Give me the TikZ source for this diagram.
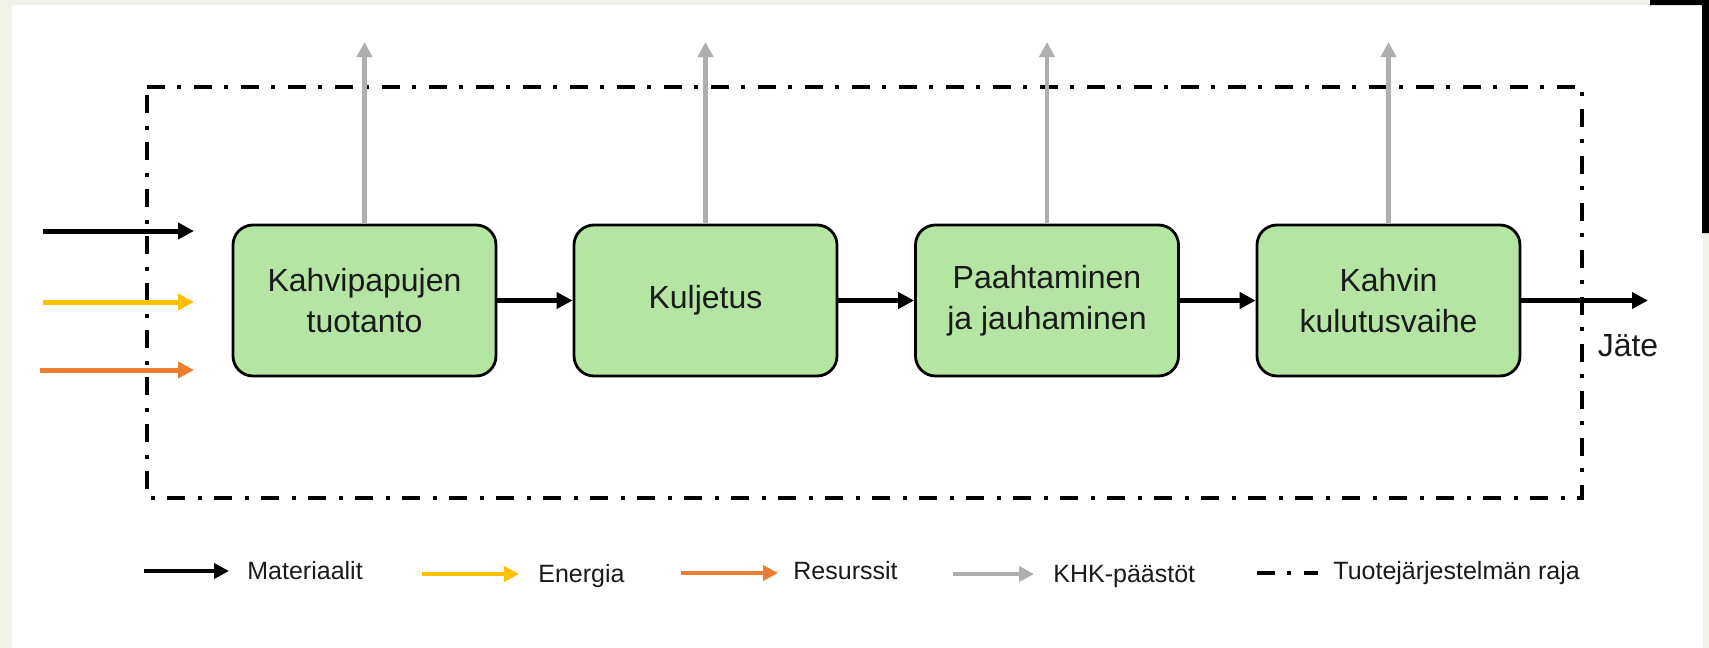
\documentclass[tikz,border=0pt]{standalone}
\usepackage{fontspec}
\setmainfont{Liberation Sans}
\usetikzlibrary{arrows.meta}
\definecolor{cream}{HTML}{F1F1EA}
\definecolor{boxgreen}{HTML}{B4E5A2}
\definecolor{arrgold}{HTML}{FFC000}
\definecolor{arrorange}{HTML}{ED7D31}
\definecolor{arrgray}{HTML}{AFAFAF}
\definecolor{txt}{HTML}{1A1A1A}
\begin{document}
\begin{tikzpicture}[x=0.5pt,y=-0.5pt,
  stage/.style={draw=black, line width=1.4pt, fill=boxgreen, rounded corners=10pt,
    minimum width=131.5pt, minimum height=75.5pt, align=center,
    font=\fontsize{16}{20.5}\selectfont, text=txt, inner sep=0pt},
  flow/.style={line width=2.5pt, -{Triangle[length=8pt,width=8pt]}},
  ghg/.style={draw=arrgray, line width=2.2pt, -{Triangle[length=7.5pt,width=7.5pt]}},
  legflow/.style={line width=2.2pt, -{Triangle[length=7.5pt,width=7.5pt]}},
  boundary/.style={line width=2pt, dash pattern=on 9pt off 6pt on 2pt off 6.5pt},
  legtext/.style={anchor=base west, font=\fontsize{12.5}{15}\selectfont, text=txt, inner sep=0pt}]
\useasboundingbox (0,0) rectangle (1709,648);
% background
\fill[cream] (0,0) rectangle (1709,648);
\fill[white] (12,5) rectangle (1703,648);
\fill[black] (1650,0) -- (1709,0) -- (1709,233) -- (1702,233) -- (1702,5) -- (1650,5) -- cycle;
% system boundary
\draw[boundary] (147,87) -- (1582,87) -- (1582,498) -- (147,498) -- cycle;
% stages
\node[stage] (s1) at (364.5,300.5) {Kahvipapujen\\tuotanto};
\node[stage] (s2) at (705.5,300.5) {Kuljetus};
\node[stage] (s3) at (1047,300.5) {Paahtaminen\\ja jauhaminen};
\node[stage] (s4) at (1388.5,300.5) {Kahvin\\kulutusvaihe};
% flows between stages
\draw[flow] (s1) -- (s2);
\draw[flow] (s2) -- (s3);
\draw[flow] (s3) -- (s4);
% emissions
\coordinate (g1) at (364.5,42);
\coordinate (g2) at (705.5,42);
\coordinate (g3) at (1047,42);
\coordinate (g4) at (1388.5,42);
\draw[ghg] (s1.north) -- (g1);
\draw[ghg] (s2.north) -- (g2);
\draw[ghg] (s3.north) -- (g3);
\draw[ghg] (s4.north) -- (g4);
% inputs
\coordinate (ma) at (43,231);  \coordinate (mb) at (194,231);
\coordinate (ea) at (43,302);  \coordinate (eb) at (194,302);
\coordinate (ra) at (40,370);  \coordinate (rb) at (194,370);
\draw[flow] (ma) -- (mb);
\draw[flow, draw=arrgold, fill=arrgold] (ea) -- (eb);
\draw[flow, draw=arrorange, fill=arrorange] (ra) -- (rb);
% output
\coordinate (out) at (1648,300.5);
\draw[flow] (s4.east) -- (out);
\node[font=\fontsize{16}{20}\selectfont, text=txt, inner sep=0pt] (jate) at (1628,346) {Jäte};
% legend
\coordinate (l1a) at (144,571); \coordinate (l1b) at (229,571);
\coordinate (l2a) at (422,574); \coordinate (l2b) at (519,574);
\coordinate (l3a) at (681,573); \coordinate (l3b) at (778,573);
\coordinate (l4a) at (953,574); \coordinate (l4b) at (1034,574);
\coordinate (l5a) at (1257,573); \coordinate (l5b) at (1318,573);
\draw[legflow] (l1a) -- (l1b);
\draw[legflow, draw=arrgold, fill=arrgold] (l2a) -- (l2b);
\draw[legflow, draw=arrorange, fill=arrorange] (l3a) -- (l3b);
\draw[legflow, draw=arrgray, fill=arrgray] (l4a) -- (l4b);
\draw[boundary] (l5a) -- (l5b);
\node[legtext] (t1) at (247,579) {Materiaalit};
\node[legtext] (t2) at (538,582) {Energia};
\node[legtext] (t3) at (793,579) {Resurssit};
\node[legtext] (t4) at (1053,582) {KHK-päästöt};
\node[legtext] (t5) at (1333,579) {Tuotejärjestelmän raja};
\end{tikzpicture}
\end{document}
